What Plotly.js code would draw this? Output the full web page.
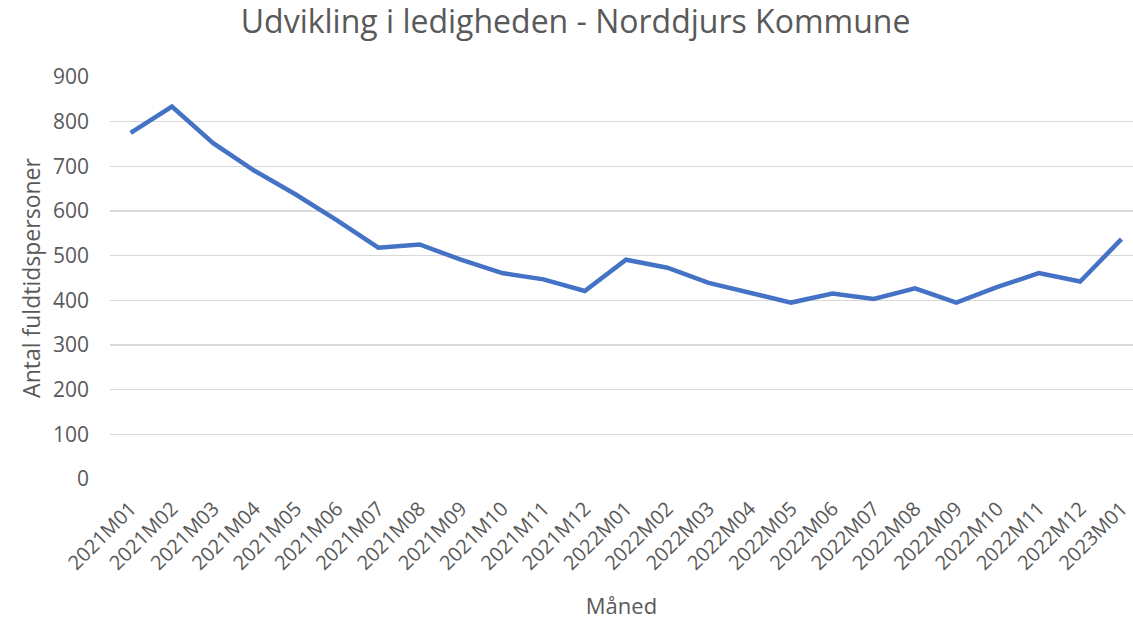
<!DOCTYPE html>
<html>
<head>
<meta charset="utf-8">
<script src="https://cdn.plot.ly/plotly-3.0.1.min.js"></script>
<style>html,body{margin:0;padding:0;background:#fff;}#chart{width:1133px;height:621px;}</style>
</head>
<body>
<div id="chart"></div>
<script>
const months = ["2021M01","2021M02","2021M03","2021M04","2021M05","2021M06","2021M07","2021M08","2021M09","2021M10","2021M11","2021M12",
  "2022M01","2022M02","2022M03","2022M04","2022M05","2022M06","2022M07","2022M08","2022M09","2022M10","2022M11","2022M12","2023M01"];
const ledige = [775,834,752,690,637,579,518,525,491,461,447,421,
  491,473,439,417,395,415,403,427,395,430,461,442,537];
const yTicks = [0,100,200,300,400,500,600,700,800,900];

const font = "Open Sans, Liberation Sans, sans-serif";
const grey = "#595959";

Plotly.newPlot("chart", [{
  x: months,
  y: ledige,
  type: "scatter",
  mode: "lines",
  line: {color: "#4472C4", width: 4.5},
  hoverinfo: "x+y"
}], {
  width: 1133, height: 621,
  margin: {l: 110, r: 0, t: 77, b: 142},
  paper_bgcolor: "#fff", plot_bgcolor: "#fff",
  showlegend: false,
  title: {text: "Udvikling i ledigheden - Norddjurs Kommune", font: {family: font, size: 32, color: grey}, x: 0.508, xanchor: "center", y: 0.965, yanchor: "middle"},
  xaxis: {
    type: "category",
    range: [-0.5, 24.28],
    tickangle: -45,
    tickfont: {family: font, size: 20, color: grey},
    showgrid: false, zeroline: false, showline: false, ticks: "",
    ticklabelstandoff: 13,
    title: {text: "Måned", font: {family: font, size: 22, color: grey}, standoff: 24}
  },
  yaxis: {
    range: [0, 900],
    tickvals: yTicks,
    tickfont: {family: font, size: 21, color: grey},
    gridcolor: "#d9d9d9", gridwidth: 1.3,
    zeroline: false, showline: false, ticks: "",
    ticklabelstandoff: 20,
    title: {text: "Antal fuldtidspersoner", font: {family: font, size: 23, color: grey}, standoff: 5}
  }
}, {displayModeBar: false, staticPlot: true});
</script>
</body>
</html>
